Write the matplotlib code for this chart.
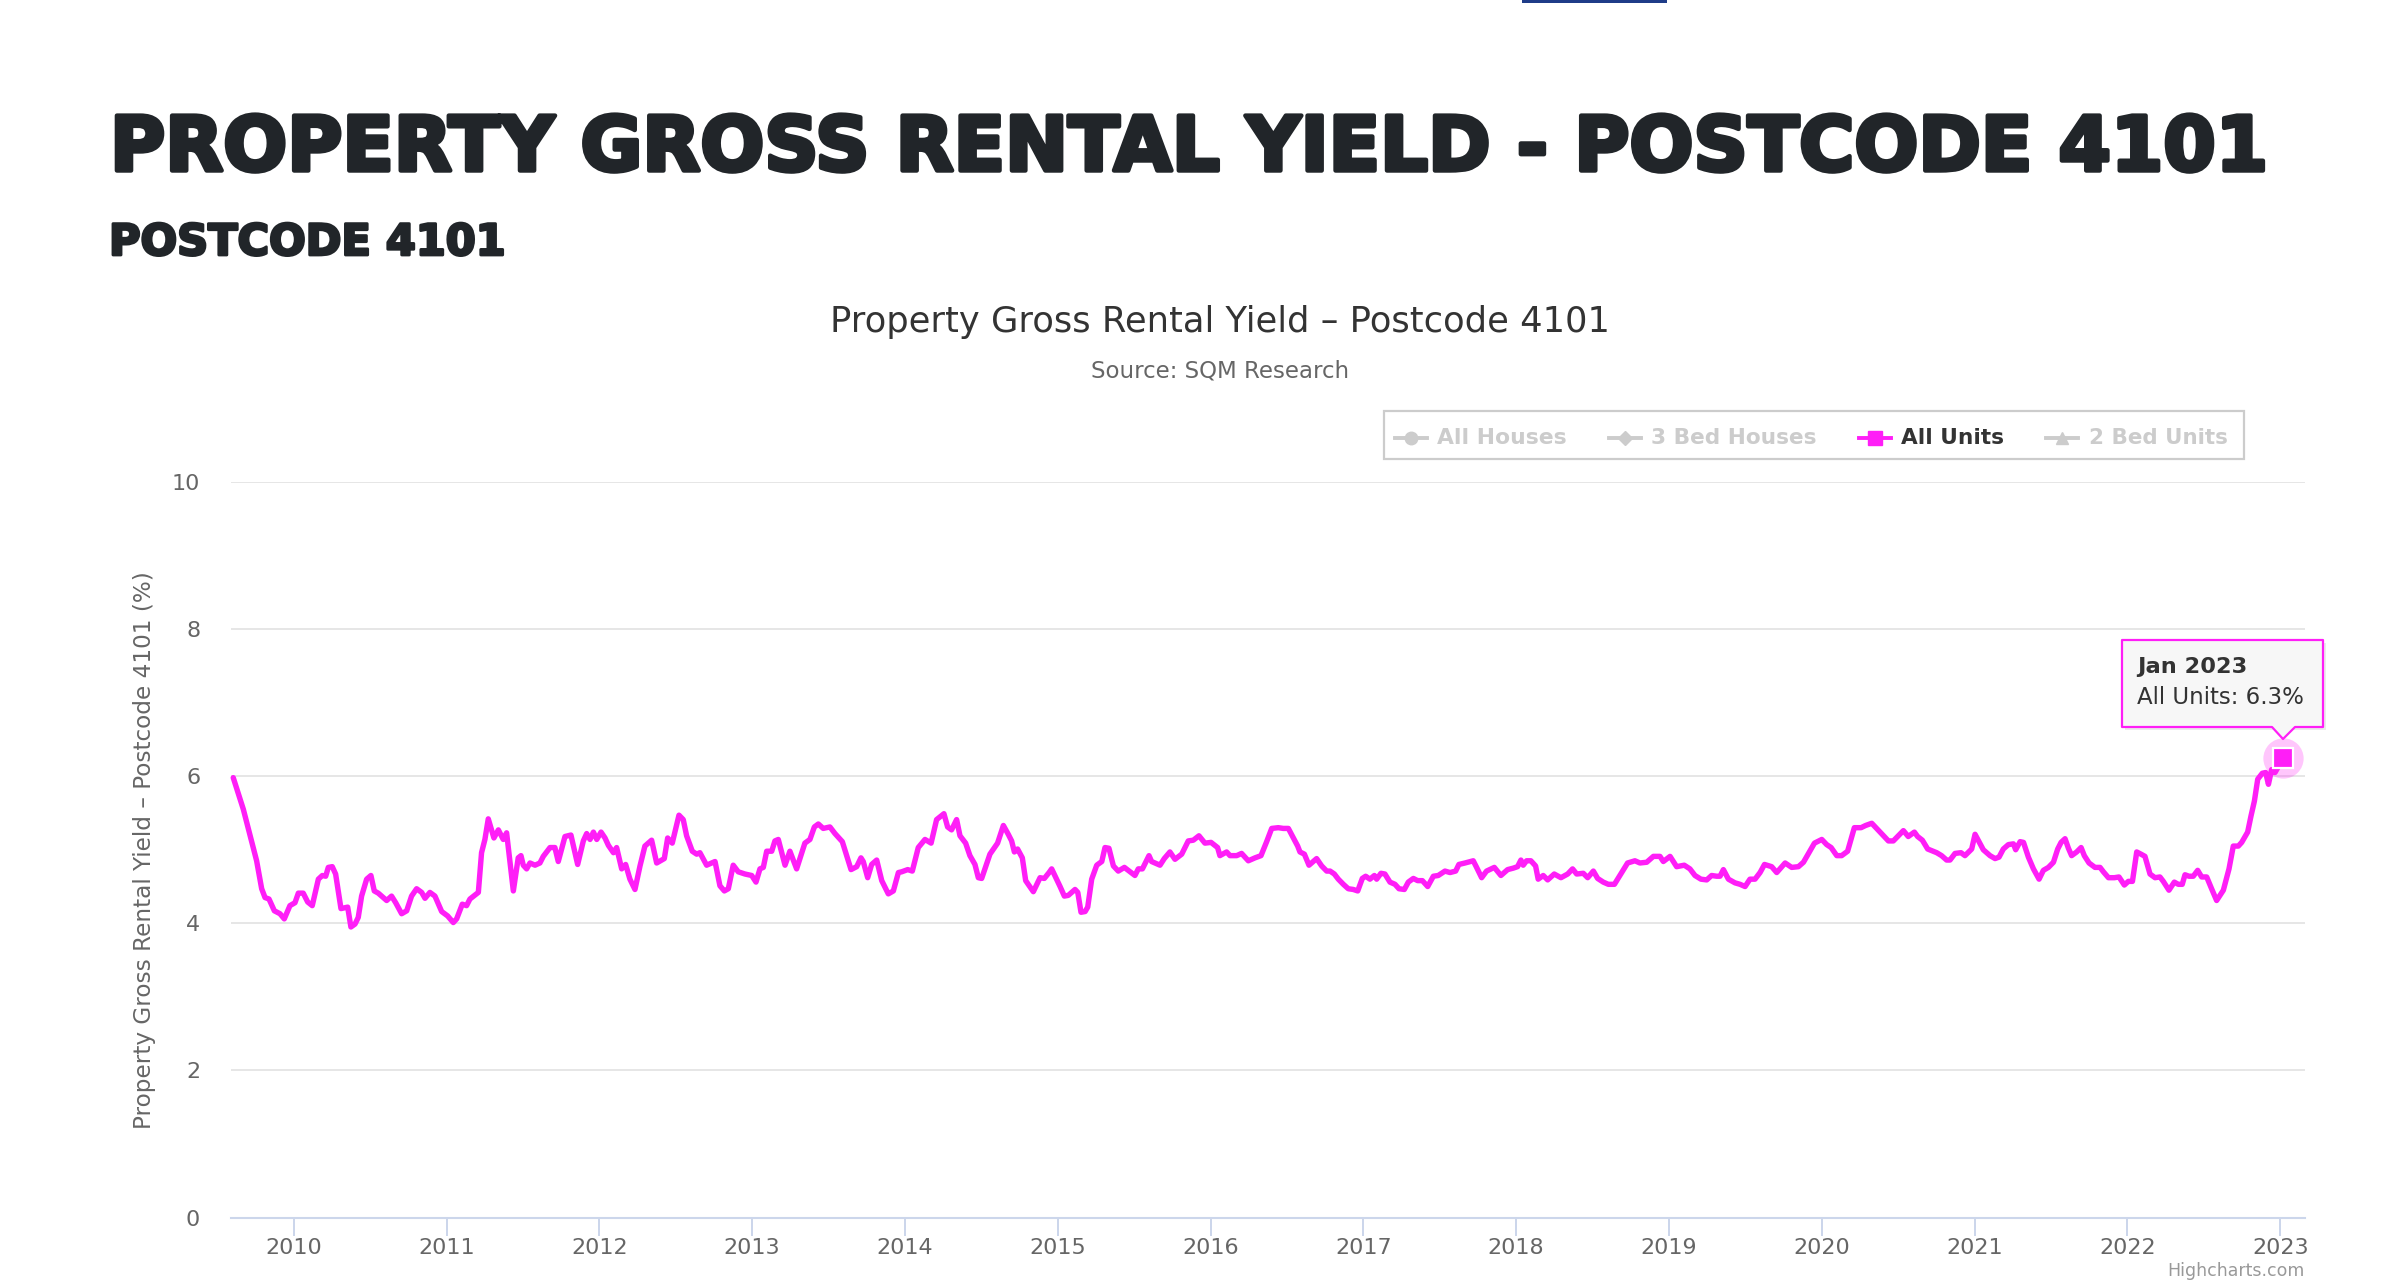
import matplotlib
matplotlib.use("Agg")
import matplotlib.pyplot as plt
import matplotlib.patheffects as pe
from matplotlib.transforms import IdentityTransform
from matplotlib.patches import Polygon, Rectangle
from matplotlib.lines import Line2D

# ---------------- data (All Units gross rental yield, %) ----------------
years = [
    2009.604, 2009.670, 2009.757, 2009.790, 2009.812, 2009.838, 2009.873, 2009.910, 2009.938, 2009.975,
    2010.008, 2010.030, 2010.062, 2010.091, 2010.121, 2010.161, 2010.187, 2010.209, 2010.226, 2010.252,
    2010.274, 2010.309, 2010.353, 2010.374, 2010.401, 2010.422, 2010.444, 2010.477, 2010.505, 2010.527,
    2010.553, 2010.575, 2010.608, 2010.640, 2010.667, 2010.706, 2010.739, 2010.771, 2010.804, 2010.837,
    2010.859, 2010.891, 2010.924, 2010.968, 2011.007, 2011.044, 2011.066, 2011.103, 2011.131, 2011.153,
    2011.208, 2011.229, 2011.251, 2011.273, 2011.310, 2011.339, 2011.371, 2011.393, 2011.437, 2011.469,
    2011.487, 2011.502, 2011.524, 2011.546, 2011.579, 2011.611, 2011.633, 2011.677, 2011.709, 2011.731,
    2011.775, 2011.814, 2011.858, 2011.895,
    2011.917, 2011.939, 2011.961, 2011.983, 2012.011, 2012.037, 2012.059, 2012.092, 2012.113, 2012.146,
    2012.172, 2012.200, 2012.233, 2012.266, 2012.298, 2012.342, 2012.375, 2012.425, 2012.447, 2012.477,
    2012.521, 2012.549, 2012.571, 2012.608, 2012.637, 2012.658, 2012.702, 2012.735, 2012.757, 2012.789,
    2012.818, 2012.844, 2012.876, 2012.909, 2012.953, 2012.997, 2013.025, 2013.051, 2013.073, 2013.095,
    2013.128, 2013.149, 2013.171, 2013.215, 2013.247, 2013.291, 2013.345, 2013.378, 2013.407, 2013.433,
    2013.465, 2013.509, 2013.542, 2013.590, 2013.647, 2013.684, 2013.712, 2013.727, 2013.756, 2013.782,
    2013.815, 2013.848, 2013.891, 2013.924, 2013.957, 2013.978, 2014.018, 2014.048, 2014.087, 2014.131,
    2014.171,
    2014.207, 2014.255, 2014.279, 2014.305, 2014.338, 2014.360, 2014.397, 2014.425, 2014.458, 2014.480,
    2014.502, 2014.556, 2014.606, 2014.644, 2014.676, 2014.698, 2014.716, 2014.737, 2014.768, 2014.790,
    2014.840, 2014.884, 2014.912, 2014.943, 2014.960, 2015.015, 2015.043, 2015.069, 2015.113, 2015.131,
    2015.152, 2015.179, 2015.196, 2015.222, 2015.255, 2015.288, 2015.309, 2015.335, 2015.364, 2015.396,
    2015.436, 2015.473, 2015.505, 2015.527, 2015.554, 2015.597, 2015.614, 2015.669, 2015.697, 2015.734,
    2015.767, 2015.811, 2015.854, 2015.887, 2015.924, 2015.963, 2016.003, 2016.046, 2016.061, 2016.105,
    2016.127, 2016.171, 2016.203, 2016.247, 2016.291, 2016.330, 2016.367, 2016.400, 2016.443, 2016.476,
    2016.509, 2016.542, 2016.570, 2016.585, 2016.614, 2016.644, 2016.694, 2016.727, 2016.760, 2016.782,
    2016.810, 2016.836, 2016.869, 2016.901, 2016.934, 2016.963, 2016.993, 2017.015, 2017.043, 2017.072,
    2017.087, 2017.115, 2017.141, 2017.174, 2017.207, 2017.233, 2017.268, 2017.294, 2017.327, 2017.355,
    2017.386, 2017.421, 2017.458, 2017.490, 2017.534, 2017.567, 2017.604, 2017.625, 2017.665, 2017.719,
    2017.741, 2017.774, 2017.806, 2017.857, 2017.900, 2017.944, 2017.981, 2018.009, 2018.031, 2018.046,
    2018.068, 2018.096, 2018.127, 2018.144, 2018.177, 2018.206, 2018.249, 2018.293, 2018.337, 2018.369,
    2018.396, 2018.439, 2018.468, 2018.505, 2018.533, 2018.570, 2018.603, 2018.643, 2018.690, 2018.729,
    2018.777,
    2018.810, 2018.854, 2018.898, 2018.941, 2018.963, 2019.007, 2019.050, 2019.100, 2019.137, 2019.170,
    2019.209, 2019.247, 2019.279, 2019.312, 2019.334, 2019.356, 2019.389, 2019.432, 2019.465, 2019.498,
    2019.530, 2019.563, 2019.596, 2019.625, 2019.672, 2019.705, 2019.760, 2019.803, 2019.847, 2019.880,
    2019.908, 2019.952, 2020.000, 2020.032, 2020.061, 2020.098, 2020.130, 2020.169, 2020.213, 2020.257,
    2020.287, 2020.327, 2020.359, 2020.392, 2020.436, 2020.468, 2020.534, 2020.566, 2020.606, 2020.627,
    2020.658, 2020.693, 2020.752, 2020.784, 2020.817, 2020.839, 2020.872, 2020.911, 2020.937, 2020.981,
    2021.003,
    2021.057, 2021.101, 2021.134, 2021.160, 2021.188, 2021.221, 2021.254, 2021.269, 2021.298, 2021.320,
    2021.352, 2021.385, 2021.422, 2021.450, 2021.483, 2021.516, 2021.544, 2021.566, 2021.592, 2021.614,
    2021.635, 2021.668, 2021.697, 2021.718, 2021.749, 2021.788, 2021.821, 2021.843, 2021.876, 2021.915,
    2021.945, 2021.980, 2022.006, 2022.033, 2022.061, 2022.089, 2022.115, 2022.148, 2022.181, 2022.213,
    2022.235, 2022.272, 2022.307, 2022.333, 2022.359, 2022.377, 2022.403, 2022.431, 2022.460, 2022.486,
    2022.519, 2022.551, 2022.584, 2022.628, 2022.665, 2022.693, 2022.726, 2022.748, 2022.787, 2022.809,
    2022.831, 2022.853, 2022.883, 2022.905, 2022.923, 2022.944, 2022.966, 2023.021,
]
all_units = [
    5.98, 5.55, 4.85, 4.47, 4.35, 4.33, 4.17, 4.13, 4.06, 4.24,
    4.28, 4.41, 4.41, 4.29, 4.24, 4.60, 4.65, 4.64, 4.76, 4.77,
    4.67, 4.20, 4.22, 3.95, 3.99, 4.08, 4.37, 4.60, 4.65, 4.44,
    4.41, 4.37, 4.31, 4.37, 4.28, 4.13, 4.17, 4.37, 4.47, 4.42,
    4.34, 4.42, 4.37, 4.16, 4.10, 4.01, 4.06, 4.26, 4.24, 4.33,
    4.42, 4.96, 5.14, 5.42, 5.16, 5.27, 5.14, 5.23, 4.44, 4.89,
    4.92, 4.79, 4.74, 4.82, 4.79, 4.82, 4.91, 5.03, 5.03, 4.84,
    5.18, 5.20, 4.80, 5.12,
    5.22, 5.14, 5.24, 5.14, 5.24, 5.16, 5.06, 4.96, 5.03, 4.74,
    4.80, 4.60, 4.46, 4.78, 5.05, 5.13, 4.82, 4.88, 5.16, 5.09,
    5.47, 5.41, 5.19, 4.98, 4.94, 4.96, 4.79, 4.82, 4.84, 4.51,
    4.44, 4.47, 4.79, 4.70, 4.67, 4.65, 4.56, 4.74, 4.76, 4.98,
    4.98, 5.12, 5.14, 4.79, 4.98, 4.74, 5.09, 5.14, 5.31, 5.35,
    5.29, 5.31, 5.22, 5.11, 4.73, 4.77, 4.89, 4.84, 4.62, 4.80,
    4.86, 4.58, 4.40, 4.44, 4.69, 4.70, 4.73, 4.71, 5.03, 5.14,
    5.09,
    5.41, 5.49, 5.31, 5.27, 5.41, 5.19, 5.09, 4.92, 4.80, 4.62,
    4.61, 4.94, 5.09, 5.33, 5.21, 5.12, 4.97, 5.01, 4.89, 4.58,
    4.43, 4.62, 4.61, 4.69, 4.74, 4.50, 4.37, 4.38, 4.46, 4.42,
    4.15, 4.16, 4.22, 4.60, 4.79, 4.84, 5.03, 5.02, 4.78, 4.71,
    4.76, 4.70, 4.65, 4.74, 4.74, 4.92, 4.84, 4.79, 4.88, 4.97,
    4.87, 4.94, 5.12, 5.13, 5.19, 5.09, 5.10, 5.03, 4.92, 4.97,
    4.92, 4.92, 4.95, 4.85, 4.89, 4.92, 5.11, 5.29, 5.30, 5.29,
    5.29, 5.16, 5.05, 4.97, 4.94, 4.79, 4.88, 4.78, 4.71, 4.71,
    4.67, 4.60, 4.53, 4.47, 4.46, 4.44, 4.61, 4.64, 4.60, 4.65,
    4.60, 4.68, 4.67, 4.56, 4.53, 4.47, 4.46, 4.56, 4.61, 4.58,
    4.58, 4.50, 4.64, 4.65, 4.71, 4.69, 4.71, 4.80, 4.82, 4.85,
    4.76, 4.62, 4.71, 4.76, 4.65, 4.73, 4.75, 4.77, 4.86, 4.79,
    4.85, 4.85, 4.78, 4.60, 4.65, 4.59, 4.67, 4.62, 4.67, 4.74,
    4.67, 4.68, 4.62, 4.71, 4.61, 4.56, 4.53, 4.53, 4.69, 4.82,
    4.85,
    4.82, 4.83, 4.91, 4.91, 4.84, 4.91, 4.77, 4.79, 4.74, 4.65,
    4.60, 4.59, 4.65, 4.64, 4.64, 4.73, 4.60, 4.55, 4.53, 4.50,
    4.60, 4.60, 4.69, 4.80, 4.77, 4.69, 4.82, 4.76, 4.77, 4.83,
    4.93, 5.09, 5.14, 5.07, 5.03, 4.92, 4.92, 4.98, 5.30, 5.30,
    5.33, 5.36, 5.29, 5.22, 5.12, 5.12, 5.26, 5.18, 5.24, 5.18,
    5.13, 5.01, 4.96, 4.92, 4.86, 4.86, 4.95, 4.96, 4.92, 5.01,
    5.21,
    5.00, 4.92, 4.88, 4.90, 5.01, 5.07, 5.08, 5.00, 5.11, 5.10,
    4.90, 4.74, 4.60, 4.72, 4.76, 4.83, 5.01, 5.10, 5.15, 5.02,
    4.92, 4.97, 5.03, 4.92, 4.82, 4.76, 4.76, 4.70, 4.62, 4.62,
    4.63, 4.52, 4.57, 4.57, 4.97, 4.94, 4.91, 4.67, 4.62, 4.63,
    4.57, 4.45, 4.56, 4.53, 4.53, 4.66, 4.64, 4.64, 4.72, 4.63,
    4.63, 4.47, 4.31, 4.45, 4.74, 5.05, 5.05, 5.10, 5.24, 5.46,
    5.66, 5.96, 6.04, 6.05, 5.89, 6.09, 6.05, 6.25,
]
year_ticks = list(range(2010, 2024))
y_ticks = [0, 2, 4, 6, 8, 10]
legend_names = ["All Houses", "3 Bed Houses", "All Units", "2 Bed Units"]
tooltip_date = "Jan 2023"
tooltip_value = "6.3%"

page_title = "PROPERTY GROSS RENTAL YIELD - POSTCODE 4101"
page_subtitle = "POSTCODE 4101"
chart_title = "Property Gross Rental Yield \u2013 Postcode 4101"
chart_subtitle = "Source: SQM Research"
y_title = "Property Gross Rental Yield \u2013 Postcode 4101 (%)"

# ---------------- styling ----------------
MAG = "#ff1ef7"
GREY_TXT = "#666666"
INACTIVE = "#cccccc"
W, H = 2404, 1288
FONT = "DejaVu Sans"

fig = plt.figure(figsize=(W / 100, H / 100), dpi=100)
fig.patch.set_facecolor("white")
ID = IdentityTransform()
renderer = fig.canvas.get_renderer()


def ptext(x, y, s, size, target_w=None, target_h=None, **kw):
    kw.setdefault("family", FONT)
    t = fig.text(x, H - y, s, transform=ID, fontsize=size, **kw)
    if target_w or target_h:
        bb = t.get_window_extent(renderer)
        if target_w:
            t.set_fontsize(size * target_w / bb.width)
        else:
            t.set_fontsize(size * target_h / bb.height)
    return t


# tiny blue bar at the top edge (page element)
fig.add_artist(Rectangle((1522, H - 3), 145, 3, transform=ID, color="#1f3c88", lw=0))

# page headings (heavy weight imitated with a same-colour stroke)
HEAD = "#212529"
t1 = ptext(110, 150, page_title, 60, target_w=2158, weight="bold", color=HEAD,
           ha="left", va="center")
t1.set_path_effects([pe.withStroke(linewidth=3.2, foreground=HEAD)])
t2 = ptext(109, 243, page_subtitle, 30, target_w=397, weight="bold", color=HEAD,
           ha="left", va="center")
t2.set_path_effects([pe.withStroke(linewidth=2.0, foreground=HEAD)])

# chart title/subtitle
ptext(1220, 322, chart_title, 26, target_w=779, color="#333333", ha="center", va="center")
ptext(1220, 371, chart_subtitle, 17, target_w=259, color=GREY_TXT, ha="center", va="center")

# ---------------- axes ----------------
L, R, T, B = 230.8, 2304.8, 482.0, 1217.5
ax = fig.add_axes([L / W, 1 - B / H, (R - L) / W, (B - T) / H])
ax.plot(years, all_units, color=MAG, lw=3.9, solid_joinstyle="round",
        solid_capstyle="round", zorder=3, clip_on=False)
ax.set_xlim(2009.588, 2023.161)
ax.set_ylim(0, 10)
ax.set_xticks(year_ticks)
ax.set_xticklabels([str(y) for y in year_ticks])
ax.set_yticks(y_ticks)
ax.set_yticklabels([str(v) for v in y_ticks])
for side in ["top", "right", "left"]:
    ax.spines[side].set_visible(False)
ax.spines["bottom"].set_color("#ccd6eb")
ax.spines["bottom"].set_linewidth(1.5)
ax.spines["bottom"].set_zorder(4)
ax.grid(axis="y", color="#e6e6e6", lw=1.44)
ax.set_axisbelow(True)
ax.tick_params(axis="x", direction="out", length=13, width=1.44, color="#ccd6eb",
               labelsize=16, labelcolor=GREY_TXT, pad=2)
ax.tick_params(axis="y", length=0, labelsize=16, labelcolor=GREY_TXT, pad=22)
for lab in ax.get_xticklabels() + ax.get_yticklabels():
    lab.set_family(FONT)

# y-axis title
yt = fig.text(145, H - 850, y_title, transform=ID, rotation=90, ha="center", va="center",
              color=GREY_TXT, family=FONT, fontsize=16)
bb = yt.get_window_extent(renderer)
yt.set_fontsize(16 * 559 / bb.height)

# hovered last point: halo + square marker
ax.plot([years[-1]], [all_units[-1]], "o", ms=29, color=MAG, alpha=0.25,
        mec="none", zorder=5, clip_on=False)
ax.plot([years[-1]], [all_units[-1]], "s", ms=15, color=MAG, mec="white",
        mew=1.6, zorder=6, clip_on=False)

# ---------------- legend ----------------
fig.add_artist(Rectangle((1384, H - 459), 860, 48, transform=ID, fill=False,
                         ec="#cccccc", lw=1.6))
legend_items = [
    (legend_names[0], 1411, 1437, 130, "o", 9, INACTIVE, INACTIVE),
    (legend_names[1], 1625, 1651, 166, "D", 7, INACTIVE, INACTIVE),
    (legend_names[2], 1875, 1901, 103, "s", 10, MAG, "#333333"),
    (legend_names[3], 2062, 2089, 139, "^", 9, INACTIVE, INACTIVE),
]
for name, cx, tx, tw, mk, ms, col, tcol in legend_items:
    fig.add_artist(Line2D([cx - 16, cx + 16], [H - 438, H - 438], transform=ID,
                          color=col, lw=2.8))
    fig.add_artist(Line2D([cx], [H - 438], transform=ID, marker=mk, ms=ms,
                          color=col, mec=col, lw=0))
    ptext(tx, 438, name, 15, target_w=tw, weight="bold", color=tcol,
          ha="left", va="center")

# ---------------- tooltip ----------------
bx0, bx1, by0, by1 = 2122, 2323, 640, 727
tip_x, tip_y = 2283, 739
shadow = [(bx0 + 3, by0 + 3), (bx1 + 3, by0 + 3), (bx1 + 3, by1 + 3), (bx0 + 3, by1 + 3)]
fig.add_artist(Polygon([(x, H - y) for x, y in shadow], closed=True, transform=ID,
                       fc="#000000", alpha=0.08, lw=0))
pts = [(bx0, by0), (bx1, by0), (bx1, by1), (tip_x + 12, by1), (tip_x, tip_y),
       (tip_x - 11, by1), (bx0, by1)]
fig.add_artist(Polygon([(x, H - y) for x, y in pts], closed=True, transform=ID,
                       fc="#f7f7f7", ec=MAG, lw=1.6, joinstyle="round"))
ptext(2137, 667, tooltip_date, 17, target_w=110, weight="bold", color="#333333",
      ha="left", va="center")
ptext(2137, 697, "All Units: " + tooltip_value, 17, target_w=167, color="#333333",
      ha="left", va="center")

# credits
ptext(2305, 1271, "Highcharts.com", 13, target_w=136, color="#999999",
      ha="right", va="center")

fig.savefig("out.png", dpi=100, facecolor="white")
